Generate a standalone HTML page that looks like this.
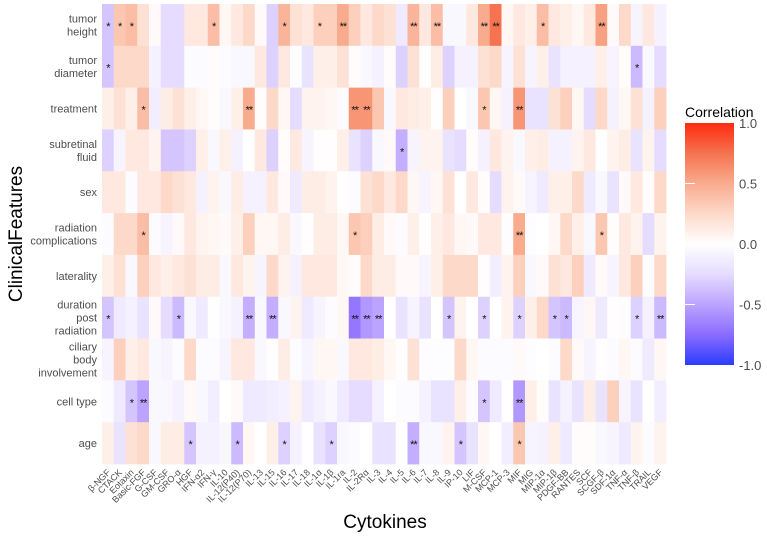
<!DOCTYPE html>
<html><head><meta charset="utf-8"><style>
body{margin:0;background:#fff;width:767px;height:536px;overflow:hidden;font-family:"Liberation Sans",sans-serif}
</style></head><body>
<svg id="chart" width="767" height="536" xmlns="http://www.w3.org/2000/svg" font-family="Liberation Sans, sans-serif">
<defs>
<linearGradient id="lg" x1="0" y1="1" x2="0" y2="0">
<stop offset="0" stop-color="#2b3cff"/><stop offset="0.125" stop-color="#8a6cff"/><stop offset="0.25" stop-color="#bba3ff"/><stop offset="0.375" stop-color="#e5dcff"/><stop offset="0.5" stop-color="#ffffff"/><stop offset="0.625" stop-color="#fdd9c9"/><stop offset="0.75" stop-color="#f9ab8e"/><stop offset="0.875" stop-color="#f57350"/><stop offset="1" stop-color="#ff2a10"/>
</linearGradient>
</defs>
<g id="cells"></g><g id="stars"></g><g id="ylabels"></g><g id="xlabels"></g>
<text transform="translate(22,234) rotate(-90)" text-anchor="middle" font-size="19" fill="#000">ClinicalFeatures</text>
<text x="385" y="528" text-anchor="middle" font-size="19" fill="#000">Cytokines</text>
<g>
<text x="685" y="117" font-size="14" fill="#000">Correlation</text>
<rect x="685" y="123" width="49" height="242" fill="url(#lg)"/>
<g id="legticks"></g>
</g>
</svg>
<script>
const cytokines=["β-NGF","CTACK","Eotaxin","Basic-FGF","G-CSF","GM-CSF","GRO-α","HGF","IFN-α2","IFN-γ","IL-10","IL-12(P40)","IL-12(P70)","IL-13","IL-15","IL-16","IL-17","IL-18","IL-1α","IL-1β","IL-1ra","IL-2","IL-2Rα","IL-3","IL-4","IL-5","IL-6","IL-7","IL-8","IL-9","IP-10","LIF","M-CSF","MCP-1","MCP-3","MIF","MIG","MIP-1α","MIP-1β","PDGF-BB","RANTES","SCF","SCGF-β","SDF-1α","TNF-α","TNF-β","TRAIL","VEGF"];
const features=[["tumor","height"],["tumor","diameter"],["treatment"],["subretinal","fluid"],["sex"],["radiation","complications"],["laterality"],["duration","post","radiation"],["ciliary","body","involvement"],["cell type"],["age"]];
const rTumorHeight=[-0.35,0.35,0.4,0.2,0.03,-0.25,-0.25,0.15,0.15,0.4,0.05,0.15,0.25,0.03,-0.3,0.45,0.2,0.15,0.3,0.3,0.5,0.3,0.15,0.25,0.2,-0.15,0.45,0.15,0.4,-0.05,-0.05,0.15,0.5,0.75,0.05,0.15,0.1,0.4,0.15,0.1,0.05,0.15,0.55,0.03,0.25,-0.08,0.15,-0.1];
const rTumorDiameter=[-0.35,0.25,0.25,0.25,-0.1,-0.25,-0.25,-0.03,-0.03,0.02,-0.03,-0.05,-0.05,0.15,-0.3,0.15,-0.02,-0.2,0.1,0.1,0.2,0.02,-0.05,-0.1,0.02,-0.3,0.2,0.01,0.12,-0.3,-0.1,-0.1,0.2,0.25,-0.08,0.2,-0.08,0.1,-0.2,-0.1,-0.1,-0.1,0.1,-0.08,0.02,-0.4,-0.05,-0.25];
const rTreatment=[0.1,0.2,0.1,0.4,-0.12,0.12,0.2,0.1,0.05,0.02,-0.05,0.1,0.5,0.02,0.25,0.05,-0.25,0.08,0.08,0.05,-0.03,0.6,0.6,0.35,-0.05,0.15,0.12,0.1,0.01,0.3,0.0,-0.05,0.35,0.05,-0.1,0.6,-0.2,-0.2,0.2,0.3,0.05,-0.25,0.25,-0.1,0.05,0.2,-0.1,0.3];
const rSubretinal=[-0.3,-0.08,0.15,0.15,0.08,-0.35,-0.35,-0.3,0.1,-0.05,0.1,-0.1,0.0,0.15,-0.3,0.02,0.15,-0.08,0.01,0.01,0.1,-0.2,-0.3,-0.05,0.03,-0.45,-0.08,0.08,0.08,-0.2,-0.25,0.02,-0.1,0.15,0.08,-0.05,0.1,0.12,-0.1,-0.1,0.08,0.15,0.0,0.08,0.12,-0.2,0.08,-0.25];
const rSex=[0.15,0.15,-0.03,0.15,0.15,0.25,0.2,0.15,-0.1,0.08,-0.05,0.12,-0.1,-0.1,0.15,0.03,-0.15,0.12,0.12,0.08,0.01,-0.03,0.2,0.25,0.15,0.25,0.05,-0.08,0.05,0.2,0.0,0.15,0.02,-0.25,0.08,0.03,-0.08,-0.15,0.1,0.1,0.25,-0.15,-0.05,-0.2,0.03,0.15,0.02,0.25];
const rRadComp=[-0.03,0.25,0.25,0.4,-0.03,-0.08,0.03,0.15,0.08,0.05,0.03,0.1,0.3,0.05,0.05,0.12,-0.05,0.01,0.12,0.12,0.05,0.35,0.3,0.12,0.03,-0.03,0.1,0.01,0.1,0.15,0.05,0.03,0.15,0.15,-0.02,0.5,-0.02,0.0,0.05,0.25,0.1,-0.05,0.35,0.02,0.15,0.08,-0.25,0.08];
const rLaterality=[0.1,0.2,-0.05,0.3,0.15,0.1,0.15,0.2,0.12,0.12,-0.05,0.15,0.08,-0.08,0.25,0.08,-0.1,0.15,0.15,0.15,0.05,0.02,0.25,0.12,0.12,0.03,0.03,-0.08,0.1,0.25,0.25,0.25,0.01,-0.12,0.08,0.3,-0.05,0.03,0.2,0.15,0.3,-0.15,0.03,-0.08,0.15,0.3,-0.03,0.25];
const rDuration=[-0.35,-0.15,-0.1,-0.2,0.03,-0.25,-0.4,-0.05,-0.15,-0.01,-0.05,-0.1,-0.45,-0.05,-0.45,-0.05,0.08,-0.15,-0.08,-0.03,0.05,-0.7,-0.55,-0.5,0.0,-0.2,-0.08,-0.2,0.0,-0.35,0.08,0.0,-0.3,0.0,0.08,-0.3,0.1,0.25,-0.35,-0.4,-0.08,0.05,-0.15,0.01,-0.02,-0.3,-0.1,-0.4];
const rCiliary=[-0.08,0.3,0.1,0.15,-0.05,-0.08,-0.03,0.25,-0.03,-0.03,-0.08,0.15,0.15,-0.05,0.01,0.12,-0.03,-0.08,0.05,0.05,-0.05,0.15,0.15,0.12,0.05,0.01,0.2,-0.02,-0.02,-0.02,0.25,0.05,-0.03,-0.03,-0.03,0.03,-0.02,0.0,-0.03,0.25,0.03,-0.08,0.01,-0.03,0.05,-0.03,-0.15,0.05];
const rCellType=[-0.03,-0.15,-0.35,-0.5,-0.05,-0.05,-0.1,0.03,-0.05,-0.12,0.0,0.03,-0.15,-0.15,-0.12,-0.1,0.08,-0.15,-0.1,-0.05,-0.15,-0.25,-0.25,-0.1,0.0,-0.03,-0.03,-0.1,-0.2,-0.2,0.1,-0.03,-0.35,-0.15,0.0,-0.55,0.1,0.02,-0.2,-0.1,-0.2,0.12,-0.2,0.3,-0.08,-0.2,0.0,-0.12];
const rAge=[0.1,-0.2,0.2,0.25,-0.05,0.12,0.12,-0.35,-0.1,-0.1,-0.05,-0.4,0.05,0.0,0.1,-0.3,-0.1,0.0,-0.2,-0.3,-0.05,-0.03,0.0,-0.2,-0.2,0.0,-0.45,-0.05,-0.05,0.08,-0.35,-0.2,0.05,0.0,-0.12,0.35,-0.08,-0.1,0.1,-0.15,0.02,0.02,-0.05,-0.08,-0.15,0.08,-0.03,0.08];
const values=[rTumorHeight,rTumorDiameter,rTreatment,rSubretinal,rSex,rRadComp,rLaterality,rDuration,rCiliary,rCellType,rAge];
const sigRow=[0,0,0,0,0,0,0,0,0,0,0,0,0, 1,1, 2,2,2,2,2,2, 3, 5,5,5,5, 7,7,7,7,7,7,7,7,7,7,7,7,7,7, 9,9,9,9, 10,10,10,10,10,10,10];
const sigCol=[0,1,2,9,15,18,20,26,28,32,33,37,42, 0,45, 3,12,21,22,32,35, 25, 3,21,35,42, 0,6,12,14,21,22,23,29,32,35,38,39,45,47, 2,3,32,35, 7,11,15,19,26,30,35];
const sigStars=["*","*","*","*","*","*","**","**","**","**","**","*","**", "*","*", "*","**","**","**","*","**", "*", "*","*","**","*", "*","*","**","**","**","**","**","*","*","*","*","*","*","**", "*","**","*","**", "*","*","*","*","**","*","*"];
const ticks=[1.0,0.5,0.0,-0.5,-1.0];
const X0=102,X1=666,Y0=4,Y1=464;
const cw=(X1-X0)/cytokines.length, rh=(Y1-Y0)/features.length;
const xPos=i=>X0+i*cw, yPos=j=>Y0+j*rh;
const stopsP=[[0,[255,255,255]],[0.25,[253,217,201]],[0.5,[249,171,142]],[0.75,[245,115,80]],[1,[255,42,16]]];
const stopsN=[[0,[255,255,255]],[0.25,[229,220,255]],[0.5,[187,163,255]],[0.75,[138,108,255]],[1,[43,60,255]]];
function color(v){const s=v>=0?stopsP:stopsN;const t=Math.min(1,Math.abs(v));for(let k=1;k<s.length;k++){if(t<=s[k][0]){const a=s[k-1],b=s[k],f=(t-a[0])/(b[0]-a[0]);return 'rgb('+a[1].map((c,i)=>Math.round(c+(b[1][i]-c)*f)).join(',')+')';}}return 'rgb(43,60,255)';}
const NS="http://www.w3.org/2000/svg";
const gc=document.getElementById('cells');
values.forEach((row,j)=>row.forEach((v,i)=>{
const r=document.createElementNS(NS,'rect');
r.setAttribute('x',xPos(i));r.setAttribute('y',yPos(j));r.setAttribute('width',cw+0.4);r.setAttribute('height',rh+0.4);r.setAttribute('fill',color(v));


gc.appendChild(r);}));
const gs=document.getElementById('stars');
sigRow.forEach((j,k)=>{
const t=document.createElementNS(NS,'text');
t.setAttribute('x',xPos(sigCol[k])+cw/2);t.setAttribute('y',yPos(j)+rh/2+5);t.setAttribute('text-anchor','middle');t.setAttribute('font-size','11');t.setAttribute('fill','#111');t.setAttribute('letter-spacing','-1');
t.textContent=sigStars[k];


gs.appendChild(t);});
const gy=document.getElementById('ylabels');
features.forEach((lines,j)=>{
const t=document.createElementNS(NS,'text');
t.setAttribute('text-anchor','end');t.setAttribute('font-size','11');t.setAttribute('fill','#4d4d4d');
const cy=yPos(j)+rh/2, lh=13, y0=cy-(lines.length-1)*lh/2+4;
lines.forEach((l,k)=>{const ts=document.createElementNS(NS,'tspan');ts.setAttribute('x',97);ts.setAttribute('y',y0+k*lh);ts.textContent=l;t.appendChild(ts);});


gy.appendChild(t);});
const gx=document.getElementById('xlabels');
cytokines.forEach((c,i)=>{
const t=document.createElementNS(NS,'text');
const x=xPos(i)+cw/2+3,y=473;
t.setAttribute('transform','translate('+x+','+y+') rotate(-45)');t.setAttribute('text-anchor','end');t.setAttribute('font-size','9');t.setAttribute('fill','#4d4d4d');
t.textContent=c;


gx.appendChild(t);});
const gl=document.getElementById('legticks');
ticks.forEach(v=>{
const y=123+(1-v)/2*242;
const t=document.createElementNS(NS,'text');
t.setAttribute('x',739);t.setAttribute('y',y+5);t.setAttribute('font-size','13');t.setAttribute('fill','#4d4d4d');
t.textContent=v.toFixed(1);


gl.appendChild(t);
if(Math.abs(v)<1){const l=document.createElementNS(NS,'line');l.setAttribute('x1',685);l.setAttribute('x2',695);l.setAttribute('y1',y);l.setAttribute('y2',y);l.setAttribute('stroke','#fff');


gl.appendChild(l);}});
</script>
</body></html>
